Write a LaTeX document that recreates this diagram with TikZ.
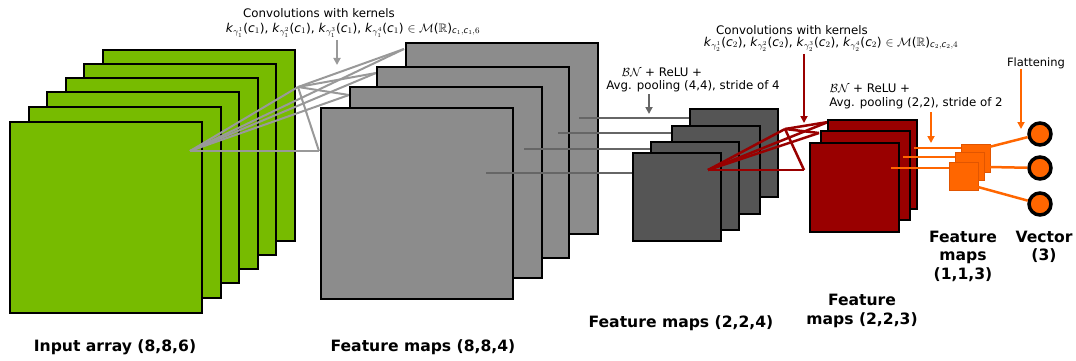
\RequirePackage{fix-cm}
\documentclass[tikz,border=0pt]{standalone}
\usepackage{amsmath,amssymb}
\usepackage{fontspec}
\setmainfont{DejaVu Sans}
\usetikzlibrary{arrows.meta}
\definecolor{cgreen}{RGB}{119,187,0}
\definecolor{cgray}{RGB}{140,140,140}
\definecolor{cdark}{RGB}{85,85,85}
\definecolor{cred}{RGB}{153,0,0}
\definecolor{corange}{RGB}{255,102,0}
\definecolor{corangedark}{RGB}{225,85,0}
\definecolor{ckern}{RGB}{153,153,153}
\definecolor{cdline}{RGB}{102,102,102}
\newcommand{\kk}[2]{\textit{k}$_{\gamma_{#1}^{#2}}$(\textit{c}$_{#1}$)}
\newcommand{\ic}{\text{\itshape c}}
\begin{document}
\begin{tikzpicture}[x=1pt,y=-1pt,
 map/.style={draw=black, anchor=north west, inner sep=0pt, outer sep=0pt},
 big/.style={map, line width=2.6pt, minimum width=192pt, minimum height=191pt},
 greenmap/.style={big, fill=cgreen},
 graymap/.style={big, fill=cgray},
 darkmap/.style={map, fill=cdark, line width=1.4pt, minimum width=88pt, minimum height=88pt},
 redmap/.style={map, fill=cred, line width=1.2pt, minimum width=89pt, minimum height=89pt},
 orgmap/.style={map, fill=corange, draw=corangedark, line width=0.8pt, minimum width=29pt, minimum height=28pt},
 unit/.style={circle, draw=black, fill=corange, line width=3.5pt, minimum size=22pt, inner sep=0pt},
 kline/.style={draw=ckern, line width=2pt},
 dline/.style={draw=cdline, line width=2.5pt},
 rline/.style={draw=cred, line width=2.5pt},
 oline/.style={draw=corange, line width=2.5pt},
 arr/.style={-{Triangle[length=7pt,width=7pt]}, line width=2pt},
 lbl/.style={font=\fontsize{15.6}{18.5}\selectfont\bfseries, align=center, inner sep=0pt},
 txt/.style={font=\fontsize{11.8}{14}\selectfont, inner sep=0pt},
 mtxt/.style={font=\fontsize{12.2}{14}\selectfont, inner sep=0pt},
]
\useasboundingbox (0,0) rectangle (1076,361);

% ---- input maps
\node[greenmap] (g6) at (103,50) {};
\node[greenmap] (g5) at (84,64) {};
\node[greenmap] (g4) at (66,78) {};
\node[greenmap] (g3) at (47,92) {};
\node[greenmap] (g2) at (29,107) {};
\node[greenmap] (g1) at (10,122) {};

% ---- first kernels
\coordinate (A) at (190,151);
\coordinate (B) at (298,87);
\coordinate (P1) at (319,151);
\coordinate (Q2) at (349,95);
\coordinate (Q3) at (376,73);
\coordinate (Q4) at (404,49);
\foreach \t in {B,P1,Q2,Q3,Q4} \draw[kline] (A) -- (\t);
\foreach \t in {P1,Q2,Q3,Q4} \draw[kline] (B) -- (\t);

% ---- feature maps (8,8,4)
\node[graymap] (m4) at (406,43) {};
\node[graymap] (m3) at (377,67) {};
\node[graymap] (m2) at (350,87) {};
\node[graymap] (m1) at (321,108) {};

% ---- pooling connectors
\coordinate (s4) at (579,118); \coordinate (e4) at (690,118);
\coordinate (s3) at (558,133); \coordinate (e3) at (672,133);
\coordinate (s2) at (524,149); \coordinate (e2) at (651,149);
\coordinate (s1) at (486,173); \coordinate (e1) at (633,173);
\foreach \i in {1,2,3,4} \draw[dline] (s\i) -- (e\i);

% ---- feature maps (2,2,4)
\node[darkmap] (d4) at (690,109) {};
\node[darkmap] (d3) at (672,126) {};
\node[darkmap] (d2) at (651,142) {};
\node[darkmap] (d1) at (633,153) {};

% ---- second kernels
\coordinate (A2) at (708,170);
\coordinate (B2) at (785,129);
\coordinate (R1) at (804,170);
\coordinate (R2) at (819,133);
\coordinate (R3) at (828,122);
\foreach \t in {B2,R1,R2,R3} \draw[rline] (A2) -- (\t);
\foreach \t in {R1,R2,R3} \draw[rline] (B2) -- (\t);

% ---- feature maps (2,2,3)
\node[redmap] (r3) at (828,120) {};
\node[redmap] (r2) at (821,131) {};
\node[redmap] (r1) at (810,143) {};

% ---- pooling to (1,1,3)
\coordinate (u3) at (914,148); \coordinate (v3) at (961,148);
\coordinate (u2) at (903,157); \coordinate (v2) at (955,157);
\coordinate (u1) at (891,168); \coordinate (v1) at (949,168);
\foreach \i in {1,2,3} \draw[oline] (u\i) -- (v\i);

\node[orgmap] (o3) at (961,144) {};
\node[orgmap] (o2) at (955,152) {};
\node[orgmap] (o1) at (949,162) {};

% ---- vector
\node[unit] (c1) at (1040,134) {};
\node[unit] (c2) at (1040,168) {};
\node[unit] (c3) at (1040,204) {};
\coordinate (f1) at (989,147);
\coordinate (f2) at (989,167);
\coordinate (f3) at (978,187);
\draw[oline] (f1) -- (c1);
\draw[oline] (f2) -- (c2);
\draw[oline] (f3) -- (c3);

% ---- annotations
\node[txt] (k1a) at (319,13) {Convolutions with kernels};
\node[mtxt] (k1b) at (353,30) {\kk{1}{1}, \kk{1}{2}, \kk{1}{3}, \kk{1}{4} $\in\mathcal{M}$($\mathbb{R}$)$_{\ic_1,\ic_1,6}$};
\coordinate (a1s) at (337,40); \coordinate (a1e) at (337,65);
\draw[arr, ckern] (a1s) -- (a1e);

\node[txt] (p1a) at (662,72) {$\mathcal{B}\mathcal{N}$ + ReLU +};
\node[txt] (p1b) at (693,86) {Avg. pooling (4,4), stride of 4};
\coordinate (a2s) at (649,94); \coordinate (a2e) at (649,114);
\draw[arr, cdline] (a2s) -- (a2e);

\node[txt] (k2a) at (792,30) {Convolutions with kernels};
\node[mtxt] (k2b) at (831,44) {\kk{2}{1}, \kk{2}{2}, \kk{2}{3}, \kk{2}{4} $\in\mathcal{M}$($\mathbb{R}$)$_{\ic_2,\ic_2,4}$};
\coordinate (a3s) at (804,54); \coordinate (a3e) at (804,123);
\draw[arr, cred] (a3s) -- (a3e);

\node[txt] (p2a) at (870,88) {$\mathcal{B}\mathcal{N}$ + ReLU +};
\node[txt] (p2b) at (916,103) {Avg. pooling (2,2), stride of 2};
\coordinate (a4s) at (931,112); \coordinate (a4e) at (931,143);
\draw[arr, corange] (a4s) -- (a4e);

\node[txt, font=\fontsize{11.5}{14}\selectfont] (fl) at (1036,63) {Flattening};
\coordinate (a5s) at (1021,69); \coordinate (a5e) at (1021,129);
\draw[arr, corange] (a5s) -- (a5e);

% ---- labels
\node[lbl] (L1) at (115,347) {Input array (8,8,6)};
\node[lbl] (L2) at (423,347) {Feature maps (8,8,4)};
\node[lbl] (L3) at (681,323) {Feature maps (2,2,4)};
\node[lbl] (L4) at (862,311) {Feature\\maps (2,2,3)};
\node[lbl] (L5) at (963,256) {Feature\\maps\\(1,1,3)};
\node[lbl] (L6) at (1044,247) {Vector\\(3)};
\end{tikzpicture}
\end{document}
